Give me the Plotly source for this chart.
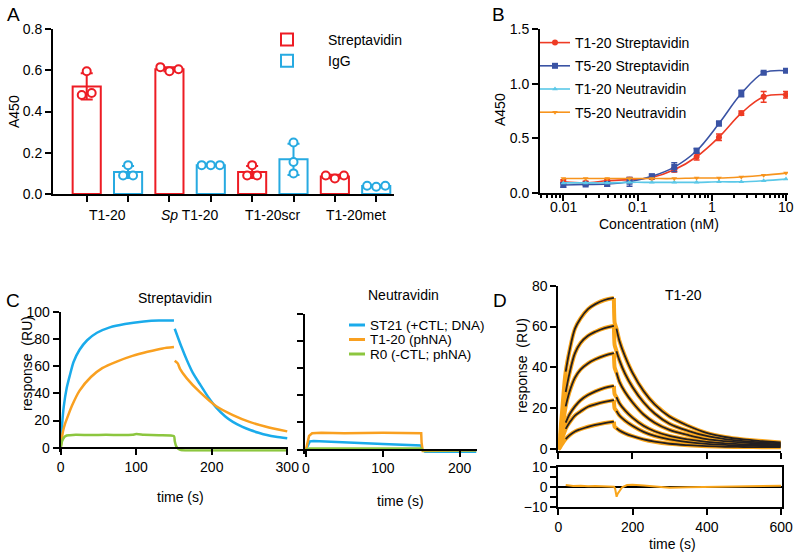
import plotly.graph_objects as go
import numpy as np

W, H = 800, 559
def X(px): return px / W
def Y(py): return 1 - py / H

FONT = "Liberation Sans, Arial, Helvetica, sans-serif"

# ---------------- Panel A data ----------------
groups = ["T1-20", "<i>Sp</i> T1-20", "T1-20scr", "T1-20met"]
strep_pts = [[0.48, 0.595, 0.49], [0.615, 0.595, 0.605], [0.09, 0.14, 0.09], [0.09, 0.075, 0.09]]
igg_pts = [[0.09, 0.14, 0.09], [0.14, 0.14, 0.14], [0.25, 0.155, 0.10], [0.04, 0.035, 0.04]]
# horizontal spread of replicate dots (in bar-slot units)
strep_off = [[-0.12, 0, 0.12], [-0.22, 0, 0.22], [-0.12, 0, 0.12], [-0.22, 0, 0.22]]
igg_off = [[-0.12, 0, 0.12], [-0.22, 0, 0.22], [0, 0, 0], [-0.22, 0, 0.22]]

# ---------------- Panel B data ----------------
conc = [0.01, 0.02, 0.039, 0.078, 0.156, 0.3125, 0.625, 1.25, 2.5, 5, 10]
conc_ticks = [0.01, 0.1, 1, 10]
conc_ticklabels = ["0.01", "0.1", "1", "10"]
t1_strep = [0.10, 0.09, 0.11, 0.12, 0.14, 0.21, 0.33, 0.51, 0.73, 0.88, 0.90]
t1_strep_err = [0.02, 0.015, 0.015, 0.02, 0.015, 0.02, 0.03, 0.03, 0.02, 0.05, 0.03]
t5_strep = [0.07, 0.075, 0.08, 0.10, 0.15, 0.235, 0.385, 0.635, 0.91, 1.10, 1.12]
t5_strep_err = [0.02, 0.01, 0.02, 0.04, 0.02, 0.04, 0.02, 0.02, 0.03, 0.01, 0.01]
t1_neutr = [0.09, 0.09, 0.09, 0.095, 0.095, 0.095, 0.095, 0.10, 0.10, 0.11, 0.125]
t5_neutr = [0.13, 0.13, 0.13, 0.13, 0.13, 0.13, 0.135, 0.135, 0.145, 0.16, 0.18]

# ---------------- Panel C data (Streptavidin) ----------------
st21_as_t = [0, 2, 4, 8, 12, 17, 25, 35, 48, 65, 85, 110, 130, 150]
st21_as_v = [0, 18, 30, 44, 53, 63, 72, 79, 84.5, 88.5, 91, 92.8, 93.5, 93.5]
st21_dis_t = [151, 160, 167, 175, 184, 195, 206, 218, 228, 240, 251, 262, 273, 285, 300]
st21_dis_v = [87.5, 74, 64.5, 55, 47, 37.5, 29.5, 23, 19, 15.5, 13, 11, 9.3, 8, 6.9]
t120_as_t = [0, 3, 6, 8, 15, 25, 40, 55, 75, 95, 115, 135, 150]
t120_as_v = [0, 12, 18, 21, 31, 42, 52, 58.5, 63.5, 67.5, 70.5, 73, 74]
t120_dis_t = [151, 155, 158, 167, 184, 206, 228, 250, 272, 300]
t120_dis_v = [64, 62, 58, 51, 41, 30.5, 24, 19, 15.4, 12]
r0_t = [0, 2, 5, 8, 12, 20, 40, 60, 80, 95, 100, 110, 130, 150, 151, 153, 156, 160, 180, 220, 260, 300]
r0_v = [0, 5, 8, 9, 9.2, 9.5, 9.3, 9.5, 9.3, 9.5, 10, 9.6, 9.2, 8.5, 5, 1, -1, -1.8, -2, -2, -2, -2]

# ---------------- Panel C data (Neutravidin) ----------------
n_st21_t = [0, 3, 5, 10, 20, 50, 100, 150, 151, 155, 222]
n_st21_v = [0, 4, 6, 6.3, 6, 5, 4, 3, 0, -1.7, -1.7]
n_t120_t = [0, 2, 4, 8, 20, 50, 100, 150, 150.5, 152, 160, 200, 222]
n_t120_v = [0, 5, 10, 12, 12.3, 12, 12.3, 12, 5, -1, -1, -0.8, -0.5]
n_r0_t = [0, 5, 150, 152, 222]
n_r0_v = [0, 0.7, 0.7, -0.5, -0.5]
c_legend = ["ST21 (+CTL; DNA)", "T1-20 (phNA)", "R0 (-CTL; phNA)"]

# ---------------- Panel D data (T1-20 concentration series) ----------------
d_as_t = [0, 5, 10, 20, 30, 45, 60, 80, 100, 125, 150]
d_as = [
    [0, 8, 18, 38, 48, 59, 64, 68.5, 71, 73, 74],
    [0, 5, 12, 28, 37, 47, 52, 55.5, 57.5, 59.3, 60.4],
    [0, 4, 9, 21, 28, 35, 39, 42, 44, 45.8, 47],
    [0, 2, 6, 13, 17, 21, 24, 26.5, 28.3, 30, 31],
    [0, 2, 5, 10, 13, 16.5, 18.5, 20.8, 22, 23.2, 24],
    [0, 1, 2.5, 5, 6.8, 8.7, 9.8, 11, 11.9, 12.8, 13.5],
]
d_dis_t = [152, 157, 165, 180, 200, 230, 260, 300, 350, 400, 450, 500, 550, 600]
d_dis = [
    [62, 59, 53, 45.5, 37.5, 28.5, 22, 16, 11.5, 8, 6, 4.8, 4, 3.3],
    [51, 48, 43.5, 37, 30.5, 23, 17.5, 12.5, 9, 6.5, 5, 4, 3.4, 2.9],
    [40, 37.5, 33, 28, 23, 17, 13, 9.5, 7, 5, 4, 3.3, 2.8, 2.4],
    [27, 25.5, 22.5, 19, 15.5, 11.5, 8.8, 6.5, 4.8, 3.6, 2.9, 2.4, 2.2, 2.0],
    [20, 18.8, 16.5, 14, 11.5, 8.5, 6.5, 4.8, 3.5, 2.6, 2.1, 1.8, 1.6, 1.5],
    [11, 10.3, 9.2, 7.8, 6.4, 4.8, 3.7, 2.7, 2.0, 1.5, 1.2, 1.1, 1.0, 1.0],
]
res_t = [20, 40, 60, 80, 100, 120, 140, 150, 153, 155, 157, 160, 165, 172, 185, 200, 230,
         260, 300, 350, 400, 450, 500, 550, 600]
res_v = [0.8, 0.3, 0.5, 0.2, 0.4, 0.3, 0.1, 0.0, -1.0, -4.5, -5.0, -3.5, -2.0, -0.3, 0.8,
         1.0, 0.6, 0.0, -0.5, -0.3, -0.2, 0.0, 0.3, 0.4, 0.5]

# ---------------- colours ----------------
RED_A, BLUE_A = "#ED1C24", "#27AAE1"
RED_B, BLUE_B, CYAN_B, ORANGE_B = "#EE3B24", "#3A53A4", "#5BC8E8", "#F7941D"
BLUE_C, ORANGE_C, GREEN_C = "#1AABEB", "#F9A020", "#8CC63F"
ORANGE_D, BLACK_D = "#F9A51A", "#231F20"

fig = go.Figure()

# ---------- Panel A ----------
for j, (name, pts, offs, col) in enumerate([("Streptavidin", strep_pts, strep_off, RED_A),
                                            ("IgG", igg_pts, igg_off, BLUE_A)]):
    pos = [2 * i + j for i in range(len(groups))]
    means = [float(np.mean(p)) for p in pts]
    sds = [float(np.std(p, ddof=1)) for p in pts]
    fig.add_trace(go.Bar(x=pos, y=means, width=0.68, name=name,
                         marker=dict(color="white", line=dict(color=col, width=2)),
                         error_y=dict(type="data", array=sds, color=col, thickness=2, width=6),
                         xaxis="x", yaxis="y", legend="legend"))
    xs, ys = [], []
    for i, p in enumerate(pts):
        for k, v in enumerate(p):
            xs.append(pos[i] + offs[i][k])
            ys.append(v)
    fig.add_trace(go.Scatter(x=xs, y=ys, mode="markers", showlegend=False,
                             marker=dict(symbol="circle", size=8, color="white",
                                         line=dict(color=col, width=2)),
                             xaxis="x", yaxis="y"))

# ---------- Panel B ----------
for name, vals, err, col, sym, size in [
        ("T1-20 Streptavidin", t1_strep, t1_strep_err, RED_B, "circle", 6),
        ("T5-20 Streptavidin", t5_strep, t5_strep_err, BLUE_B, "square", 6),
        ("T1-20 Neutravidin", t1_neutr, None, CYAN_B, "triangle-up", 5),
        ("T5-20 Neutravidin", t5_neutr, None, ORANGE_B, "triangle-down", 5)]:
    fig.add_trace(go.Scatter(x=conc, y=vals, name=name, mode="lines+markers", legendgroup=name,
                             line=dict(color=col, width=1.6, shape="spline", smoothing=1.0),
                             marker=dict(symbol=sym, size=size, color=col),
                             error_y=(dict(type="data", array=err, color=col, thickness=1.5, width=3)
                                      if err is not None else None),
                             xaxis="x2", yaxis="y2", legend="legend2"))

# ---------- Panel C (Streptavidin) ----------
def cline(t, v, col, xa="x3", ya="y3", shape="spline"):
    fig.add_trace(go.Scatter(x=t, y=v, mode="lines", showlegend=False,
                             line=dict(color=col, width=2.5, shape=shape, smoothing=0.6),
                             xaxis=xa, yaxis=ya))

cline(st21_as_t, st21_as_v, BLUE_C)
cline(st21_dis_t, st21_dis_v, BLUE_C)
cline(t120_as_t, t120_as_v, ORANGE_C)
cline(t120_dis_t, t120_dis_v, ORANGE_C)
cline(r0_t, r0_v, GREEN_C)

# ---------- Panel C (Neutravidin) ----------
cline(n_st21_t, n_st21_v, BLUE_C, "x4", "y4", "linear")
cline(n_t120_t, n_t120_v, ORANGE_C, "x4", "y4", "linear")
cline(n_r0_t, n_r0_v, GREEN_C, "x4", "y4", "linear")

# ---------- Panel D ----------
for a, d in zip(d_as, d_dis):
    fig.add_trace(go.Scatter(x=d_as_t, y=a, mode="lines", showlegend=False,
                             line=dict(color=ORANGE_D, width=4, shape="spline"), xaxis="x5", yaxis="y5"))
    fig.add_trace(go.Scatter(x=[d_as_t[-1]] + d_dis_t, y=[a[-1]] + d, mode="lines", showlegend=False,
                             line=dict(color=ORANGE_D, width=4, shape="spline", smoothing=0.5),
                             xaxis="x5", yaxis="y5"))
for a, d in zip(d_as, d_dis):
    fig.add_trace(go.Scatter(x=d_as_t[3:], y=a[3:], mode="lines", showlegend=False,
                             line=dict(color=BLACK_D, width=1.8, shape="spline"), xaxis="x5", yaxis="y5"))
    fig.add_trace(go.Scatter(x=d_dis_t[1:], y=d[1:], mode="lines", showlegend=False,
                             line=dict(color=BLACK_D, width=1.8, shape="spline"), xaxis="x5", yaxis="y5"))
fig.add_trace(go.Scatter(x=res_t, y=res_v, mode="lines", showlegend=False,
                         line=dict(color=ORANGE_D, width=2), xaxis="x6", yaxis="y6"))

# ---------------- axes ----------------
def ax(size=14, **kw):
    d = dict(showline=True, linecolor="black", linewidth=2, ticks="outside", ticklen=6,
             tickwidth=2, tickcolor="black", showgrid=False, zeroline=False,
             tickfont=dict(size=size, color="black", family=FONT))
    d.update(kw)
    return d

minor_b = [m * 10 ** e for e in range(-3, 1) for m in range(2, 10)]
minor_b = [v for v in minor_b if 0.0049 < v < 10.5]

fig.update_layout(
    width=W, height=H, margin=dict(l=0, r=0, t=0, b=0),
    paper_bgcolor="white", plot_bgcolor="white", template="none",
    font=dict(family=FONT, size=14, color="black"),
    barmode="overlay",
    # A
    xaxis=ax(domain=[X(53), X(394)], range=[-0.815, 7.43], anchor="y",
             tickvals=list(range(8)), showticklabels=False),
    yaxis=ax(domain=[Y(194), Y(29)], range=[0, 0.8], anchor="x",
             tickvals=[0, 0.2, 0.4, 0.6, 0.8], tickformat=".1f"),
    # B
    xaxis2=ax(domain=[X(540), X(788)], type="log", range=[-2.314, 1.027], anchor="y2",
              tickvals=conc_ticks, showticklabels=False,
              minor=dict(tickvals=minor_b, ticks="outside", ticklen=3, tickwidth=1.5, tickcolor="black")),
    yaxis2=ax(domain=[Y(192.7), Y(29.3)], range=[0, 1.5], anchor="x2",
              tickvals=[0, 0.5, 1.0, 1.5], tickformat=".1f"),
    # C left
    xaxis3=ax(domain=[X(60.7), X(288)], range=[0, 301], anchor="free", position=Y(447.7),
              tickvals=[0, 100, 200, 300]),
    yaxis3=ax(domain=[Y(451.8), Y(311.7)], range=[-3, 100], anchor="x3",
              tickvals=[0, 20, 40, 60, 80, 100]),
    # C right
    xaxis4=ax(domain=[X(305), X(476.5)], range=[-1.3, 222], anchor="free", position=Y(449.5),
              tickvals=[0, 100, 200]),
    yaxis4=ax(domain=[Y(453.6), Y(313.5)], range=[-3, 100], anchor="x4",
              tickvals=[0, 20, 40, 60, 80, 100], showticklabels=False),
    # D top
    xaxis5=ax(domain=[X(558.3), X(781)], range=[0, 601], anchor="y5",
              tickvals=[0, 200, 400, 600], showticklabels=False),
    yaxis5=ax(domain=[Y(450.9), Y(285.7)], range=[-0.8, 80], anchor="x5",
              tickvals=[0, 20, 40, 60, 80]),
    # D residuals
    xaxis6=ax(domain=[X(558.3), X(781.5)], range=[0, 601], anchor="y6", mirror=True,
              tickvals=[0, 200, 400, 600]),
    yaxis6=ax(domain=[Y(506.7), Y(466.7)], range=[-10, 10], anchor="x6", mirror=True,
              tickvals=[-10, 0, 10], zeroline=True, zerolinecolor="black", zerolinewidth=2,
              minor=dict(tickvals=[-5, 5], ticks="outside", ticklen=6, tickwidth=2, tickcolor="black")),
    legend=dict(x=X(246), y=Y(24), xanchor="left", yanchor="top", bgcolor="rgba(0,0,0,0)",
                itemwidth=72, font=dict(size=14, family=FONT)),
    legend2=dict(x=X(535), y=Y(27), xanchor="left", yanchor="top", bgcolor="rgba(0,0,0,0)",
                 tracegroupgap=2, font=dict(size=14, family=FONT)),
)

# ---------------- text annotations ----------------
ann = []
shapes = []
def t(x, y, s, size=14, angle=0, xref="paper", xanchor="center"):
    ann.append(dict(x=x, y=Y(y), xref=xref, yref="paper", text=s, showarrow=False,
                    textangle=angle, font=dict(size=size, family=FONT, color="black"),
                    xanchor=xanchor, yanchor="middle"))

for i, g in enumerate(groups):
    t(2 * i + 0.5, 215, g, xref="x")
# concentration tick labels (log axis positions)
for v, lab in zip(conc_ticks, conc_ticklabels):
    t(float(np.log10(v)), 207, lab, xref="x2")
t(X(13), 15, "A", size=19)
t(X(498), 15, "B", size=19)
t(X(13), 300, "C", size=19)
t(X(500), 300, "D", size=19)
t(X(14), 112, "A450", angle=-90)
t(X(500), 110, "A450", angle=-90)
t(X(659), 224, "Concentration (nM)")
t(X(175), 298, "Streptavidin")
t(X(403), 295, "Neutravidin")
t(X(27), 364, "response  (RU)", angle=-90)
t(X(180), 497, "time (s)")
t(X(400), 501, "time (s)")
t(X(522), 366, "response  (RU)", angle=-90)
t(X(683), 295, "T1-20")
t(X(672), 544, "time (s)")

# legend of panel C (compact key lines + labels)
for k, (lab, col) in enumerate(zip(c_legend, [BLUE_C, ORANGE_C, GREEN_C])):
    yy = 325 + 14.5 * k
    shapes.append(dict(type="line", xref="paper", yref="paper", x0=X(349), x1=X(365),
                       y0=Y(yy), y1=Y(yy), line=dict(color=col, width=3)))
    t(X(368), yy, lab, size=13.5, xanchor="left")

fig.update_layout(annotations=ann, shapes=shapes)

fig.write_html("out.html", config={"displayModeBar": False},
               post_script="document.body.style.margin='0';document.body.style.overflow='hidden';")
